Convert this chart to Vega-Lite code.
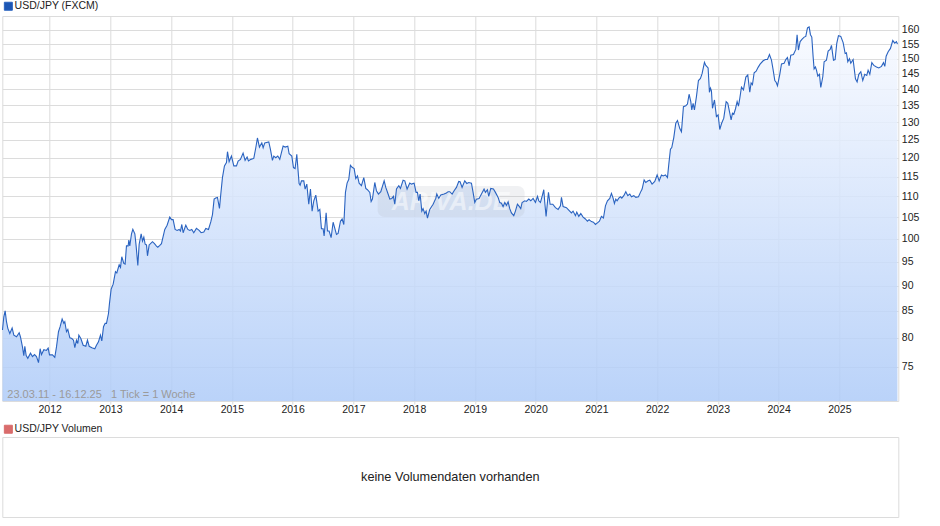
{
  "$schema": "https://vega.github.io/schema/vega-lite/v6.json",
  "background": "white",
  "padding": {"left": -0.7, "top": 0, "right": 5, "bottom": 0},
  "bounds": "flush",
  "spacing": 36,
  "config": {
    "font": "Liberation Sans",
    "view": {"stroke": "#dcdcdc", "strokeWidth": 1}
  },
  "resolve": {"scale": {"color": "independent"}, "legend": {"color": "independent"}},
  "datasets": {
    "usdjpy": [
      {"year":2011.224,"rate":81.42},{"year":2011.246,"rate":83.89},{"year":2011.268,"rate":85},{"year":2011.29,"rate":82.96},{"year":2011.312,"rate":81.73},{"year":2011.345,"rate":80.8},{"year":2011.383,"rate":81.79},{"year":2011.411,"rate":80.49},{"year":2011.455,"rate":80.19},{"year":2011.499,"rate":80.93},{"year":2011.52,"rate":80.19},{"year":2011.553,"rate":78.38},{"year":2011.575,"rate":76.87},{"year":2011.592,"rate":78.5},{"year":2011.614,"rate":76.87},{"year":2011.641,"rate":76.39},{"year":2011.685,"rate":77.29},{"year":2011.718,"rate":76.69},{"year":2011.751,"rate":77.05},{"year":2011.784,"rate":76.69},{"year":2011.817,"rate":75.67},{"year":2011.844,"rate":78.07},{"year":2011.866,"rate":77.05},{"year":2011.905,"rate":77.89},{"year":2011.948,"rate":77.77},{"year":2011.976,"rate":78.19},{"year":2011.998,"rate":76.99},{"year":2012.047,"rate":76.99},{"year":2012.085,"rate":76.57},{"year":2012.113,"rate":78.38},{"year":2012.146,"rate":81.11},{"year":2012.173,"rate":82.04},{"year":2012.206,"rate":83.46},{"year":2012.234,"rate":82.66},{"year":2012.25,"rate":82.96},{"year":2012.278,"rate":81.11},{"year":2012.3,"rate":81.54},{"year":2012.333,"rate":80},{"year":2012.366,"rate":79.88},{"year":2012.393,"rate":79.58},{"year":2012.415,"rate":78.25},{"year":2012.442,"rate":79.58},{"year":2012.464,"rate":78.98},{"year":2012.481,"rate":80.49},{"year":2012.514,"rate":79.88},{"year":2012.552,"rate":78.68},{"year":2012.596,"rate":78.5},{"year":2012.623,"rate":79.58},{"year":2012.651,"rate":78.5},{"year":2012.695,"rate":78.25},{"year":2012.744,"rate":78.07},{"year":2012.771,"rate":78.68},{"year":2012.804,"rate":79.28},{"year":2012.837,"rate":80.49},{"year":2012.859,"rate":79.46},{"year":2012.887,"rate":82.04},{"year":2012.914,"rate":82.66},{"year":2012.936,"rate":82.66},{"year":2012.969,"rate":84.51},{"year":2012.985,"rate":86.41},{"year":2013.013,"rate":89.29},{"year":2013.046,"rate":90.28},{"year":2013.084,"rate":92.85},{"year":2013.106,"rate":92.57},{"year":2013.145,"rate":94.31},{"year":2013.167,"rate":93.75},{"year":2013.188,"rate":96.02},{"year":2013.221,"rate":94.58},{"year":2013.243,"rate":94.44},{"year":2013.265,"rate":98.4},{"year":2013.293,"rate":98.4},{"year":2013.304,"rate":99.71},{"year":2013.32,"rate":98.4},{"year":2013.348,"rate":101.12},{"year":2013.37,"rate":102.16},{"year":2013.403,"rate":101.12},{"year":2013.424,"rate":98.4},{"year":2013.452,"rate":94.17},{"year":2013.474,"rate":98.77},{"year":2013.507,"rate":101.12},{"year":2013.529,"rate":99.49},{"year":2013.551,"rate":100.37},{"year":2013.573,"rate":98.77},{"year":2013.595,"rate":98.62},{"year":2013.611,"rate":96.23},{"year":2013.639,"rate":98.62},
      {"year":2013.649,"rate":98.73},{"year":2013.693,"rate":99.33},{"year":2013.726,"rate":98.88},{"year":2013.759,"rate":98.36},{"year":2013.781,"rate":98.1},{"year":2013.814,"rate":98.5},{"year":2013.841,"rate":98.88},{"year":2013.896,"rate":102.12},{"year":2013.934,"rate":103.1},{"year":2013.978,"rate":105},{"year":2014.006,"rate":104.39},{"year":2014.033,"rate":104.39},{"year":2014.066,"rate":102.12},{"year":2014.099,"rate":101.89},{"year":2014.132,"rate":102.12},{"year":2014.154,"rate":101.74},{"year":2014.176,"rate":103.26},{"year":2014.198,"rate":101.36},{"year":2014.242,"rate":103.1},{"year":2014.275,"rate":102.12},{"year":2014.307,"rate":101.89},{"year":2014.34,"rate":102.12},{"year":2014.373,"rate":101.36},{"year":2014.417,"rate":102.35},{"year":2014.461,"rate":101.89},{"year":2014.494,"rate":101.36},{"year":2014.538,"rate":101.51},{"year":2014.571,"rate":102.35},{"year":2014.615,"rate":102.12},{"year":2014.653,"rate":103.86},{"year":2014.681,"rate":105.58},{"year":2014.708,"rate":109.33},{"year":2014.735,"rate":109.58},{"year":2014.763,"rate":109.75},{"year":2014.796,"rate":107.08},{"year":2014.818,"rate":110.58},{"year":2014.845,"rate":114.75},{"year":2014.878,"rate":117.81},{"year":2014.911,"rate":118.68},{"year":2014.928,"rate":121.64},{"year":2014.955,"rate":118.95},{"year":2014.993,"rate":120.45},{"year":2015.032,"rate":117.81},{"year":2015.076,"rate":117.81},{"year":2015.103,"rate":119.12},{"year":2015.141,"rate":119.56},{"year":2015.185,"rate":121.27},{"year":2015.218,"rate":119.3},{"year":2015.251,"rate":120.18},{"year":2015.273,"rate":119.12},{"year":2015.312,"rate":119.56},{"year":2015.361,"rate":119.82},{"year":2015.394,"rate":122.73},{"year":2015.421,"rate":125.46},{"year":2015.454,"rate":122.91},{"year":2015.493,"rate":124.09},{"year":2015.515,"rate":122.73},{"year":2015.542,"rate":124.09},{"year":2015.608,"rate":124.36},{"year":2015.635,"rate":122.27},{"year":2015.668,"rate":119.3},{"year":2015.69,"rate":120.45},{"year":2015.723,"rate":120},{"year":2015.756,"rate":120.45},{"year":2015.789,"rate":119.56},{"year":2015.816,"rate":121.36},{"year":2015.844,"rate":123.18},{"year":2015.877,"rate":122.91},{"year":2015.921,"rate":123.18},{"year":2015.943,"rate":121.09},{"year":2015.987,"rate":120.45},{"year":2016.014,"rate":117.37},{"year":2016.041,"rate":117.11},{"year":2016.069,"rate":120.91},{"year":2016.107,"rate":113.25},
      {"year":2016.124,"rate":112.83},{"year":2016.146,"rate":113.92},{"year":2016.184,"rate":113.92},{"year":2016.206,"rate":111.83},{"year":2016.234,"rate":113.08},{"year":2016.266,"rate":108.08},{"year":2016.294,"rate":111.83},{"year":2016.321,"rate":106.42},{"year":2016.349,"rate":108.92},{"year":2016.382,"rate":110.33},{"year":2016.42,"rate":106.42},{"year":2016.448,"rate":106.83},{"year":2016.475,"rate":102.27},{"year":2016.502,"rate":102.27},{"year":2016.519,"rate":100.61},{"year":2016.552,"rate":106},{"year":2016.574,"rate":101.74},{"year":2016.601,"rate":101.74},{"year":2016.634,"rate":100.23},{"year":2016.667,"rate":103.79},{"year":2016.722,"rate":100.98},{"year":2016.749,"rate":101.21},{"year":2016.788,"rate":104.01},{"year":2016.815,"rate":104.55},{"year":2016.843,"rate":103.26},{"year":2016.87,"rate":111},{"year":2016.897,"rate":113.33},{"year":2016.925,"rate":114.33},{"year":2016.952,"rate":117.98},{"year":2016.98,"rate":117.46},{"year":2017.013,"rate":117.1},{"year":2017.04,"rate":114.5},{"year":2017.068,"rate":115.18},{"year":2017.095,"rate":113.33},{"year":2017.133,"rate":112.67},{"year":2017.172,"rate":114.75},{"year":2017.205,"rate":112},{"year":2017.232,"rate":111.67},{"year":2017.271,"rate":111},{"year":2017.293,"rate":108.75},{"year":2017.314,"rate":109.33},{"year":2017.353,"rate":113.5},{"year":2017.38,"rate":111.42},{"year":2017.413,"rate":110.58},{"year":2017.452,"rate":111.17},{"year":2017.507,"rate":113.92},{"year":2017.534,"rate":112.25},{"year":2017.572,"rate":110.58},{"year":2017.6,"rate":109.33},{"year":2017.633,"rate":109.5},{"year":2017.66,"rate":110},{"year":2017.682,"rate":108.08},{"year":2017.71,"rate":111.83},{"year":2017.748,"rate":112.67},{"year":2017.775,"rate":112},{"year":2017.819,"rate":114.08},{"year":2017.847,"rate":113.92},{"year":2017.885,"rate":111.83},{"year":2017.929,"rate":113.33},{"year":2017.956,"rate":113.08},{"year":2018.0,"rate":113.33},{"year":2018.033,"rate":111},{"year":2018.055,"rate":111},{"year":2018.077,"rate":108.92},{"year":2018.099,"rate":110.58},{"year":2018.127,"rate":106.42},{"year":2018.148,"rate":107},{"year":2018.176,"rate":105.83},{"year":2018.198,"rate":106.42},{"year":2018.22,"rate":104.77},{"year":2018.258,"rate":106.83},{"year":2018.313,"rate":108.08},{"year":2018.357,"rate":109.5},{"year":2018.374,"rate":110.58},{"year":2018.406,"rate":109.5},{"year":2018.439,"rate":110.33},{"year":2018.494,"rate":110.58},
      {"year":2018.532,"rate":110.83},{"year":2018.56,"rate":111.17},{"year":2018.587,"rate":111.17},{"year":2018.626,"rate":110.58},{"year":2018.659,"rate":111.42},{"year":2018.697,"rate":112.25},{"year":2018.735,"rate":113.75},{"year":2018.757,"rate":113.67},{"year":2018.79,"rate":112.25},{"year":2018.834,"rate":113.92},{"year":2018.867,"rate":113.25},{"year":2018.9,"rate":113.5},{"year":2018.944,"rate":113.33},{"year":2018.971,"rate":111},{"year":2018.999,"rate":108.5},{"year":2019.026,"rate":109.33},{"year":2019.07,"rate":109.5},{"year":2019.109,"rate":110.58},{"year":2019.152,"rate":111.83},{"year":2019.174,"rate":111},{"year":2019.207,"rate":111.67},{"year":2019.229,"rate":110},{"year":2019.262,"rate":112},{"year":2019.306,"rate":111.83},{"year":2019.339,"rate":111},{"year":2019.383,"rate":109.75},{"year":2019.41,"rate":108.5},{"year":2019.438,"rate":108.33},{"year":2019.465,"rate":107.5},{"year":2019.493,"rate":108.5},{"year":2019.52,"rate":107.83},{"year":2019.548,"rate":108.67},{"year":2019.575,"rate":107},{"year":2019.602,"rate":106},{"year":2019.641,"rate":105.33},{"year":2019.668,"rate":106.42},{"year":2019.701,"rate":108.08},{"year":2019.734,"rate":107.5},{"year":2019.756,"rate":107},{"year":2019.778,"rate":108.5},{"year":2019.822,"rate":108.92},{"year":2019.849,"rate":108.75},{"year":2019.888,"rate":109.33},{"year":2019.921,"rate":108.92},{"year":2019.959,"rate":109.5},{"year":2019.998,"rate":108.5},{"year":2020.031,"rate":110},{"year":2020.052,"rate":108.92},{"year":2020.08,"rate":108.5},{"year":2020.113,"rate":110.33},{"year":2020.135,"rate":111.67},{"year":2020.151,"rate":108.5},{"year":2020.173,"rate":105.17},{"year":2020.195,"rate":108.5},{"year":2020.212,"rate":111},{"year":2020.239,"rate":108.08},{"year":2020.283,"rate":108.08},{"year":2020.327,"rate":107.25},{"year":2020.371,"rate":106.83},{"year":2020.409,"rate":107.67},{"year":2020.426,"rate":109.75},{"year":2020.453,"rate":107.5},{"year":2020.508,"rate":107.25},{"year":2020.546,"rate":106.67},{"year":2020.59,"rate":106},{"year":2020.617,"rate":106.42},{"year":2020.656,"rate":105.33},{"year":2020.678,"rate":106.17},{"year":2020.711,"rate":105.17},{"year":2020.744,"rate":105.83},{"year":2020.782,"rate":105},{"year":2020.82,"rate":104.55},{"year":2020.853,"rate":104.01},{"year":2020.881,"rate":104.39},{"year":2020.919,"rate":103.94},{"year":2020.952,"rate":103.79},{"year":2020.985,"rate":103.26},{"year":2021.018,"rate":103.64},{"year":2021.051,"rate":104.01},{"year":2021.084,"rate":105.17},{"year":2021.117,"rate":104.77},{"year":2021.15,"rate":107.67},{"year":2021.183,"rate":108.92},{"year":2021.221,"rate":109.5},{"year":2021.249,"rate":110.75},
      {"year":2021.276,"rate":109.58},{"year":2021.298,"rate":108.25},{"year":2021.32,"rate":109.33},{"year":2021.342,"rate":108.92},{"year":2021.37,"rate":109.58},{"year":2021.397,"rate":109.92},{"year":2021.419,"rate":109.58},{"year":2021.452,"rate":110.17},{"year":2021.485,"rate":111.17},{"year":2021.518,"rate":110.17},{"year":2021.551,"rate":110.58},{"year":2021.578,"rate":109.92},{"year":2021.617,"rate":110.17},{"year":2021.65,"rate":109.75},{"year":2021.694,"rate":109.92},{"year":2021.726,"rate":111},{"year":2021.754,"rate":111.83},{"year":2021.787,"rate":114.17},{"year":2021.814,"rate":113.5},{"year":2021.853,"rate":113.92},{"year":2021.88,"rate":114.08},{"year":2021.918,"rate":113.08},{"year":2021.962,"rate":113.75},{"year":2022.001,"rate":115.44},{"year":2022.034,"rate":113.92},{"year":2022.072,"rate":115.44},{"year":2022.1,"rate":115.18},{"year":2022.138,"rate":115.44},{"year":2022.171,"rate":114.75},{"year":2022.193,"rate":118.25},{"year":2022.22,"rate":122.31},{"year":2022.242,"rate":122.78},{"year":2022.275,"rate":125.56},{"year":2022.308,"rate":129.72},{"year":2022.336,"rate":130.49},{"year":2022.374,"rate":128.15},{"year":2022.401,"rate":127.22},{"year":2022.434,"rate":134.61},{"year":2022.473,"rate":134.9},{"year":2022.5,"rate":135.42},{"year":2022.527,"rate":138.44},{"year":2022.555,"rate":136.14},{"year":2022.571,"rate":133.63},{"year":2022.593,"rate":135.63},{"year":2022.615,"rate":133.63},{"year":2022.648,"rate":137.71},{"year":2022.681,"rate":142.78},{"year":2022.714,"rate":143.44},{"year":2022.741,"rate":145},{"year":2022.78,"rate":148.75},{"year":2022.802,"rate":147.71},{"year":2022.84,"rate":146.87},{"year":2022.862,"rate":139.06},{"year":2022.879,"rate":140.33},{"year":2022.895,"rate":139.48},{"year":2022.912,"rate":134.12},{"year":2022.945,"rate":136.67},{"year":2022.977,"rate":131.67},{"year":2023.005,"rate":132.16},{"year":2023.032,"rate":127.87},{"year":2023.06,"rate":129.54},{"year":2023.098,"rate":131.18},{"year":2023.137,"rate":136.14},{"year":2023.164,"rate":135.63},{"year":2023.197,"rate":132.65},{"year":2023.219,"rate":130.69},{"year":2023.241,"rate":132.65},{"year":2023.263,"rate":132.35},{"year":2023.29,"rate":133.92},{"year":2023.318,"rate":136.14},{"year":2023.34,"rate":134.8},{"year":2023.362,"rate":137.19},{"year":2023.389,"rate":140.67},{"year":2023.422,"rate":139.79},{"year":2023.461,"rate":143.89},{"year":2023.493,"rate":144.56},{"year":2023.526,"rate":139.06},
      {"year":2023.548,"rate":142},{"year":2023.57,"rate":141.44},{"year":2023.598,"rate":145.31},{"year":2023.631,"rate":145.83},{"year":2023.663,"rate":147.08},{"year":2023.696,"rate":148.13},{"year":2023.746,"rate":149.27},{"year":2023.784,"rate":149.69},{"year":2023.817,"rate":149.69},{"year":2023.85,"rate":151.4},{"year":2023.883,"rate":149.48},{"year":2023.91,"rate":146.35},{"year":2023.938,"rate":142.78},{"year":2023.96,"rate":142.22},{"year":2023.982,"rate":141.11},{"year":2024.02,"rate":144.78},{"year":2024.048,"rate":148.23},{"year":2024.091,"rate":148.44},{"year":2024.119,"rate":149.69},{"year":2024.146,"rate":150.35},{"year":2024.174,"rate":147.6},{"year":2024.201,"rate":151.16},{"year":2024.245,"rate":151.4},{"year":2024.284,"rate":153.14},{"year":2024.305,"rate":158.29},{"year":2024.327,"rate":152.91},{"year":2024.355,"rate":155.85},{"year":2024.388,"rate":156.71},{"year":2024.421,"rate":157.44},{"year":2024.448,"rate":157.68},{"year":2024.476,"rate":160.73},{"year":2024.503,"rate":161.1},{"year":2024.525,"rate":158.29},{"year":2024.547,"rate":157.44},{"year":2024.569,"rate":150.58},{"year":2024.585,"rate":146.56},{"year":2024.607,"rate":147.19},{"year":2024.624,"rate":146.15},{"year":2024.646,"rate":144.22},{"year":2024.673,"rate":144.78},{"year":2024.695,"rate":140.56},{"year":2024.728,"rate":144},{"year":2024.75,"rate":148.96},{"year":2024.788,"rate":149.48},{"year":2024.816,"rate":152.56},{"year":2024.849,"rate":153.14},{"year":2024.871,"rate":154.53},{"year":2024.904,"rate":149.48},{"year":2024.931,"rate":149.69},{"year":2024.958,"rate":155.24},{"year":2024.986,"rate":157.93},{"year":2025.024,"rate":157.68},{"year":2025.063,"rate":155.49},{"year":2025.096,"rate":151.74},{"year":2025.117,"rate":151.98},{"year":2025.14,"rate":148.96},{"year":2025.167,"rate":150},{"year":2025.189,"rate":148.44},{"year":2025.227,"rate":149.69},{"year":2025.266,"rate":143.33},{"year":2025.293,"rate":142.33},{"year":2025.321,"rate":144.78},{"year":2025.354,"rate":145.63},{"year":2025.386,"rate":142.78},{"year":2025.419,"rate":144.78},{"year":2025.452,"rate":144.44},{"year":2025.474,"rate":146.15},{"year":2025.502,"rate":144.78},{"year":2025.535,"rate":148.65},{"year":2025.568,"rate":147.71},{"year":2025.612,"rate":147.19},{"year":2025.65,"rate":146.87},{"year":2025.694,"rate":147.4},{"year":2025.727,"rate":148.65},{"year":2025.749,"rate":147.4},{"year":2025.771,"rate":150.81},{"year":2025.804,"rate":152.33},{"year":2025.842,"rate":153.49},{"year":2025.88,"rate":156.22},{"year":2025.913,"rate":155.3},{"year":2025.94,"rate":155.85},{"year":2025.957,"rate":155}
    ]
  },
  "vconcat": [
    {
      "width": 896,
      "height": 385,
      "encoding": {
        "x": {
          "field": "year", "type": "quantitative", "title": null,
          "scale": {"domain": [2011.221, 2025.971], "nice": false, "zero": false},
          "axis": {
            "values": [2012,2013,2014,2015,2016,2017,2018,2019,2020,2021,2022,2023,2024,2025],
            "format": "d", "domain": false, "grid": true, "gridColor": "#dcdcdc", "tickColor": "#dcdcdc",
            "tickSize": 3, "labelPadding": 1, "labelFont": "Liberation Sans", "labelFontSize": 10.5, "labelColor": "#222222"
          }
        },
        "y": {
          "field": "rate", "type": "quantitative", "title": null,
          "scale": {"type": "log", "domain": [69.4, 165.1], "nice": false},
          "axis": {
            "orient": "right",
            "values": [75,80,85,90,95,100,105,110,115,120,125,130,135,140,145,150,155,160],
            "format": "d", "domain": false, "ticks": false, "grid": true, "gridColor": "#dcdcdc",
            "labelPadding": 3, "labelFont": "Liberation Sans", "labelFontSize": 10.5, "labelColor": "#222222"
          }
        }
      },
      "layer": [
        {
          "data": {"name": "usdjpy"},
          "mark": {
            "type": "area",
            "opacity": 0.85,
            "color": {
              "gradient": "linear", "x1": 1, "y1": 0, "x2": 1, "y2": 1,
              "stops": [
                {"offset": 0, "color": "#f8faff"},
                {"offset": 1, "color": "#aecbf8"}
              ]
            }
          },
          "encoding": {"y2": {"datum": 69.4}}
        },
        {
          "data": {"values": [{"year": 2017.4, "to": 2019.82, "rate": 105, "high": 112.6}]},
          "mark": {"type": "rect", "color": "#aab0ba", "opacity": 0.18, "cornerRadius": 7},
          "encoding": {
            "x2": {"field": "to"},
            "y2": {"field": "high"}
          }
        },
        {
          "data": {"values": [{"year": 2018.6, "rate": 108.7, "label": "ARIVA.DE"}]},
          "mark": {"type": "text", "font": "Liberation Sans", "fontSize": 25, "fontWeight": "bold", "fontStyle": "italic", "color": "#ffffff", "opacity": 0.5},
          "encoding": {"text": {"field": "label"}}
        },
        {
          "data": {"name": "usdjpy"},
          "mark": {"type": "line", "strokeWidth": 1.1},
          "encoding": {
            "color": {
              "datum": "USD/JPY (FXCM)",
              "scale": {"range": ["#2a63c0"]},
              "legend": {
                "orient": "none", "legendX": 0.8, "legendY": -15, "title": null, "padding": 0,
                "symbolType": "square", "symbolSize": 64, "labelFont": "Liberation Sans", "labelFontSize": 10.5, "labelColor": "#222222", "labelOffset": 1,
                "encode": {"symbols": {"update": {"fill": {"value": "#1c56b4"}, "stroke": {"value": "#1b2a4a"}, "strokeWidth": {"value": 1}}}}
              }
            }
          }
        },
        {
          "data": {"values": [{"year": 2011.304, "rate": 70.4, "label": "23.03.11 - 16.12.25\u00a0\u00a0\u00a01 Tick = 1 Woche"}]},
          "mark": {"type": "text", "align": "left", "font": "Liberation Sans", "fontSize": 11, "color": "#9a9a9a"},
          "encoding": {"text": {"field": "label"}}
        }
      ]
    },
    {
      "width": 896,
      "height": 80,
      "data": {"values": [{"px": 0.5, "py": 0.5, "label": "keine Volumendaten vorhanden"}]},
      "encoding": {
        "x": {"field": "px", "type": "quantitative", "axis": null, "scale": {"domain": [0, 1]}},
        "y": {"field": "py", "type": "quantitative", "axis": null, "scale": {"domain": [0, 1]}}
      },
      "layer": [
        {
          "mark": {"type": "text", "font": "Liberation Sans", "fontSize": 12.7, "color": "#222222"},
          "encoding": {"text": {"field": "label"}}
        },
        {
          "mark": {"type": "line"},
          "encoding": {
            "color": {
              "datum": "USD/JPY Volumen",
              "scale": {"range": ["#d96c6c"]},
              "legend": {
                "orient": "none", "legendX": 0.8, "legendY": -13, "title": null, "padding": 0,
                "symbolType": "square", "symbolSize": 64, "labelFont": "Liberation Sans", "labelFontSize": 10.5, "labelColor": "#222222", "labelOffset": 1,
                "encode": {"symbols": {"update": {"fill": {"value": "#d96c6c"}, "stroke": {"value": "#2a2a2a"}, "strokeWidth": {"value": 1}}}}
              }
            }
          }
        }
      ]
    }
  ]
}
